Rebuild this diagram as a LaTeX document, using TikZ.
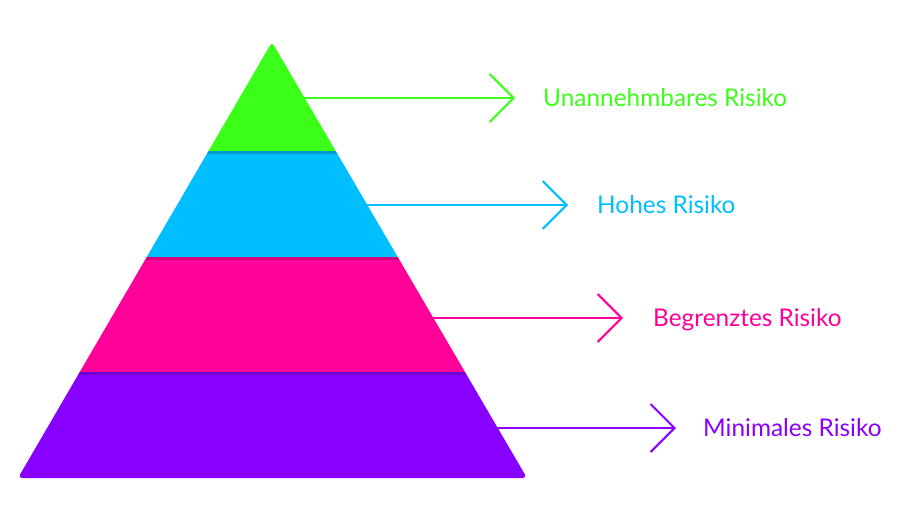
\documentclass[tikz,border=0pt]{standalone}
\usepackage{fontspec}
\setmainfont{Lato}
\usetikzlibrary{arrows.meta,positioning,calc}

\definecolor{riskgreen}{HTML}{3BFF18}
\definecolor{riskblue}{HTML}{00BFFF}
\definecolor{riskpink}{HTML}{FF0099}
\definecolor{riskpurple}{HTML}{8800FF}

\tikzset{
  pointer/.style={line width=2pt, line cap=round, line join=round,
    -{Straight Barb[length=24pt,width=48pt,line width=2pt]}},
  risklabel/.style={inner sep=0pt, anchor=west, text height=17.4pt, text depth=0pt,
    font=\fontsize{24.4}{29}\selectfont},
}

\begin{document}
\begin{tikzpicture}[x=1pt,y=-1pt]
\useasboundingbox (0,0) rectangle (900,512);
\coordinate (top) at (272,42);
\coordinate (bl) at (18,478);
\coordinate (br) at (527,478);
% pyramid bands
\begin{scope}
\clip[rounded corners=4pt] (top) -- (br) -- (bl) -- cycle;
\fill [riskgreen] (0,30) rectangle (600,151);
\fill [riskblue] (0,151) rectangle (600,257);
\fill [riskpink] (0,257) rectangle (600,372);
\fill [riskpurple] (0,372) rectangle (600,490);
\foreach \y in {151,257,372}
  \fill [black, opacity=0.18] (0,\y) rectangle (600,\y+2.5);
\end{scope}
% edge points and tips
\coordinate (e1) at ($(top)!0.128!(br)$);
\coordinate (e2) at ($(top)!0.374!(br)$);
\coordinate (e3) at ($(top)!0.633!(br)$);
\coordinate (e4) at ($(top)!0.885!(br)$);
\coordinate (t1) at (515,98);
\coordinate (t2) at (568,205);
\coordinate (t3) at (623,318);
\coordinate (t4) at (676,428);
\draw [pointer, riskgreen] (e1|-t1) -- (t1);
\draw [pointer, riskblue] (e2|-t2) -- (t2);
\draw [pointer, riskpink] (e3|-t3) -- (t3);
\draw [pointer, riskpurple] (e4|-t4) -- (t4);
% labels
\node [risklabel, riskgreen, right=28pt of t1] (l1) {Unannehmbares Risiko};
\node [risklabel, riskblue, right=29pt of t2] (l2) {Hohes Risiko};
\node [risklabel, riskpink, right=30pt of t3] (l3) {Begrenztes Risiko};
\node [risklabel, riskpurple, right=27pt of t4] (l4) {Minimales Risiko};
\end{tikzpicture}
\end{document}
